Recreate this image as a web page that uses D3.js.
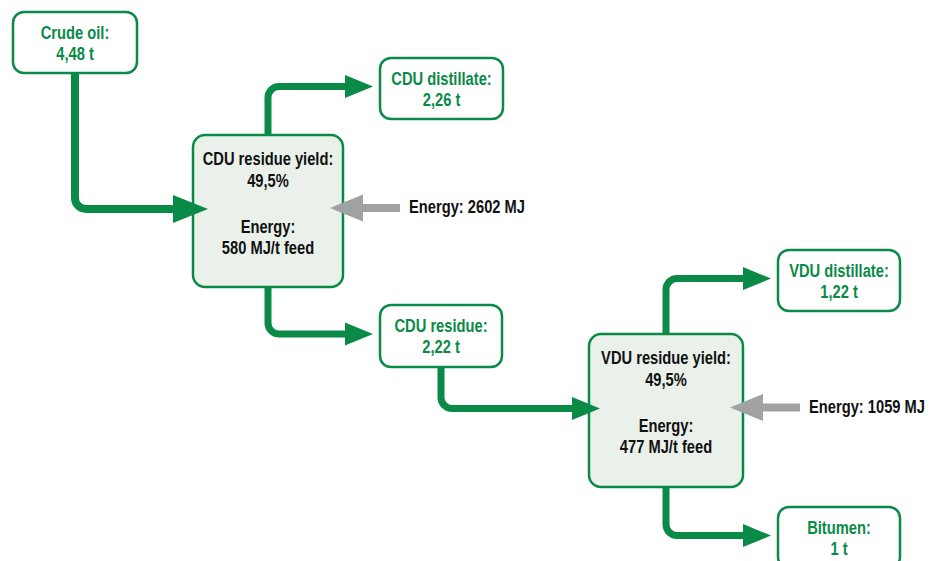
<!DOCTYPE html>
<html>
<head>
<meta charset="utf-8">
<script src="https://cdn.jsdelivr.net/npm/d3@7"></script>
<style>
  body { margin: 0; background: #fff; }
  svg text { font-family: "Liberation Sans", Arial, sans-serif; font-weight: bold; font-size: 17.5px; }
</style>
</head>
<body>
<svg id="chart" width="932" height="561"></svg>
<script>
// stream data (tonnes)
var streamNames = ["Crude oil", "CDU distillate", "CDU residue", "VDU distillate", "Bitumen"];
var streamTonnes = [4.48, 2.26, 2.22, 1.22, 1];

// process units
var unitNames = ["CDU", "VDU"];
var residueYield = [49.5, 49.5];        // %
var energyPerTonne = [580, 477];        // MJ/t feed
var energyTotal = [2602, 1059];         // MJ

// flows between nodes
var flowFrom = ["Crude oil", "CDU", "CDU", "CDU residue", "VDU", "VDU"];
var flowTo = ["CDU", "CDU distillate", "CDU residue", "VDU", "VDU distillate", "Bitumen"];

// layout of the boxes (not data)
var layout = {
  "Crude oil":      {x: 13,  y: 12,  w: 124, h: 61},
  "CDU distillate": {x: 380, y: 58,  w: 123, h: 61},
  "CDU residue":    {x: 380, y: 305, w: 122, h: 62},
  "VDU distillate": {x: 778, y: 250, w: 122, h: 61},
  "Bitumen":        {x: 778, y: 507, w: 122, h: 61},
  "CDU":            {x: 193, y: 135, w: 150, h: 152},
  "VDU":            {x: 589, y: 334, w: 154, h: 153}
};

var green = "#0a8a47",
    fillProc = "#eaf1eb",
    grey = "#a0a1a3",
    narrow = 0.84;   // condensed look

var locale = d3.formatLocale({decimal: ",", thousands: " ", grouping: [3], currency: ["", ""]});
var fmt = locale.format("~g");

var svg = d3.select("#chart");

function cx(n) { return layout[n].x + layout[n].w / 2; }
function cy(n) { return layout[n].y + layout[n].h / 2; }
function isUnit(n) { return unitNames.indexOf(n) >= 0; }
function place(x, y) { return "translate(" + x + "," + y + ") scale(" + narrow + ",1)"; }

var links = flowFrom.map(function(f, i) { return {from: f, to: flowTo[i]}; });

var linkG = svg.append("g");
var boxG = svg.append("g");
var headG = svg.append("g");

var r = 11;

links.forEach(function(l, i) {
  var s = layout[l.from], t = layout[l.to];
  // the first (crude) arrow has a bigger head
  var headLen = i === 0 ? 35 : 28,
      headHalf = i === 0 ? 14 : 11.5,
      sw = i === 0 ? 8 : 7;
  var x0 = cx(l.from);
  var y0 = (cy(l.to) < s.y) ? s.y : s.y + s.h;
  var yE = cy(l.to) - 2;
  var tip = isUnit(l.to) ? t.x + (i === 0 ? 15 : 11) : t.x - 7;
  var xE = tip - headLen;
  var dir = yE > y0 ? 1 : -1;
  var p = d3.path();
  p.moveTo(x0, y0);
  p.lineTo(x0, yE - dir * r);
  p.arcTo(x0, yE, x0 + r, yE, r);
  p.lineTo(xE + 1, yE);
  linkG.append("path")
    .attr("d", p.toString())
    .attr("fill", "none")
    .attr("stroke", green)
    .attr("stroke-width", sw);
  headG.append("path")
    .attr("d", "M" + xE + "," + (yE - headHalf) + "L" + tip + "," + yE + "L" + xE + "," + (yE + headHalf) + "Z")
    .attr("fill", green);
});

// stream boxes
streamNames.forEach(function(n, i) {
  var b = layout[n];
  var g = boxG.append("g");
  g.append("rect")
    .attr("x", b.x).attr("y", b.y).attr("width", b.w).attr("height", b.h)
    .attr("rx", 11).attr("ry", 11)
    .attr("fill", "#fff").attr("stroke", green).attr("stroke-width", 2.5);
  var lines = [n + ":", fmt(streamTonnes[i]) + " t"];
  g.selectAll("text").data(lines).join("text")
    .attr("transform", function(d, k) { return place(cx(n), cy(n) - 4 + k * 21); })
    .attr("text-anchor", "middle")
    .attr("fill", green)
    .text(function(d) { return d; });
});

// process unit boxes
unitNames.forEach(function(n, i) {
  var b = layout[n];
  var g = boxG.append("g");
  g.append("rect")
    .attr("x", b.x).attr("y", b.y).attr("width", b.w).attr("height", b.h)
    .attr("rx", 12).attr("ry", 12)
    .attr("fill", fillProc).attr("stroke", green).attr("stroke-width", 2.5);
  var lines = [
    {t: n + " residue yield:", dy: 30},
    {t: fmt(residueYield[i]) + "%", dy: 52},
    {t: "Energy:", dy: 98},
    {t: energyPerTonne[i] + " MJ/t feed", dy: 119}
  ];
  g.selectAll("text").data(lines).join("text")
    .attr("transform", function(d) { return place(cx(n), b.y + d.dy); })
    .attr("text-anchor", "middle")
    .attr("fill", "#111")
    .text(function(d) { return d.t; });

  // grey energy input arrow
  var tip = b.x + b.w - 13, ya = cy(n) - 3;
  headG.append("path")
    .attr("d", "M" + (tip + 33) + "," + (ya - 4) + "H" + (tip + 70) + "V" + (ya + 4) + "H" + (tip + 33) +
      "V" + (ya + 13.5) + "L" + tip + "," + ya + "L" + (tip + 33) + "," + (ya - 13.5) + "Z")
    .attr("fill", grey);
  headG.append("text")
    .attr("transform", place(tip + 79, ya + 5))
    .attr("fill", "#111")
    .text("Energy: " + energyTotal[i] + " MJ");
});
</script>
</body>
</html>
